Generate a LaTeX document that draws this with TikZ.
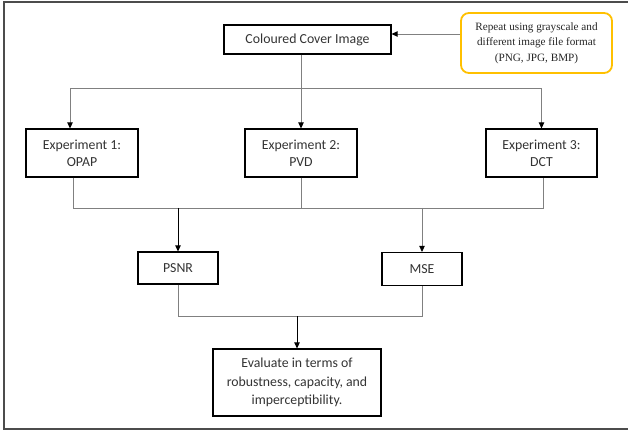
\documentclass[tikz,border=0pt]{standalone}
\usepackage{fontspec}
\setmainfont{Carlito}
\newfontfamily\tnr{Liberation Serif}
\usetikzlibrary{arrows.meta}
\definecolor{boxyellow}{HTML}{FFC000}
\definecolor{lngray}{HTML}{808080}
\begin{document}
\begin{tikzpicture}[x=1pt,y=-1pt,
  box/.style={draw=black, line width=1.2pt, inner sep=0pt, align=center,
    text=black!80, font=\fontsize{13.8}{17}\selectfont},
  ln/.style={draw=lngray, line width=0.9pt},
  arr/.style={ln, -{Triangle[length=6pt,width=5.5pt,color=black]}},
  barr/.style={draw=black, line width=0.8pt, -{Triangle[length=6pt,width=5.5pt]}}]
\useasboundingbox (0,0) rectangle (628,430);
\draw[black!70, line width=1.3pt] (628,2) -- (4,2) -- (4,429) -- (628,429);

\node[box, minimum width=167pt, minimum height=29pt] (cover) at (307.5,39.5) {Coloured Cover Image};
\node[draw=boxyellow, line width=1.8pt, rounded corners=8pt, minimum width=151pt, minimum height=60pt,
  inner sep=0pt, align=center, font=\tnr\fontsize{11.2}{15.5}\selectfont, text=black!85] (repeat) at (536.5,43)
  {Repeat using grayscale and\\different image file format\\(PNG, JPG, BMP)};

\node[box, minimum width=112pt, minimum height=48pt] (e1) at (82,153) {Experiment 1:\\OPAP};
\node[box, minimum width=112pt, minimum height=48pt] (e2) at (301,153) {Experiment 2:\\PVD};
\node[box, minimum width=111pt, minimum height=48pt] (e3) at (541.5,153) {Experiment 3:\\DCT};

\node[box, minimum width=80pt, minimum height=32pt] (psnr) at (178,268) {PSNR};
\node[box, minimum width=80pt, minimum height=33pt] (mse) at (422,269) {MSE};

\node[box, minimum width=168pt, minimum height=67pt, font=\fontsize{13.8}{18.3}\selectfont] (eval) at (297,382.5)
  {Evaluate in terms of\\robustness, capacity, and\\imperceptibility.};

% repeat -> cover
\coordinate (ra) at ([yshift=9pt]repeat.west);
\draw[arr] (ra) -- (ra -| cover.east);

% cover -> experiments
\coordinate (t) at (0,88);
\coordinate (e1in) at ([xshift=-12pt]e1.north);
\draw[arr] (cover.south -| e2.north) -- (e2.north);
\draw[arr] (e2.north |- t) -| (e1in);
\draw[arr] (e2.north |- t) -| (e3.north);

% experiments -> metrics
\coordinate (m) at (0,208);
\coordinate (e1out) at ([xshift=-9pt]e1.south);
\coordinate (e3out) at ([xshift=1.5pt]e3.south);
\draw[ln] (e1out) |- (e3out |- m) -- (e3out);
\draw[ln] (e2.south) -- (e2.south |- m);
\draw[barr] (psnr.north |- m) -- (psnr.north);
\draw[arr] (mse.north |- m) -- (mse.north);

% metrics -> evaluate
\coordinate (b) at (0,316);
\draw[ln] (psnr.south) |- (mse.south |- b) -- (mse.south);
\draw[barr] (eval.north |- b) -- (eval.north);
\end{tikzpicture}
\end{document}
